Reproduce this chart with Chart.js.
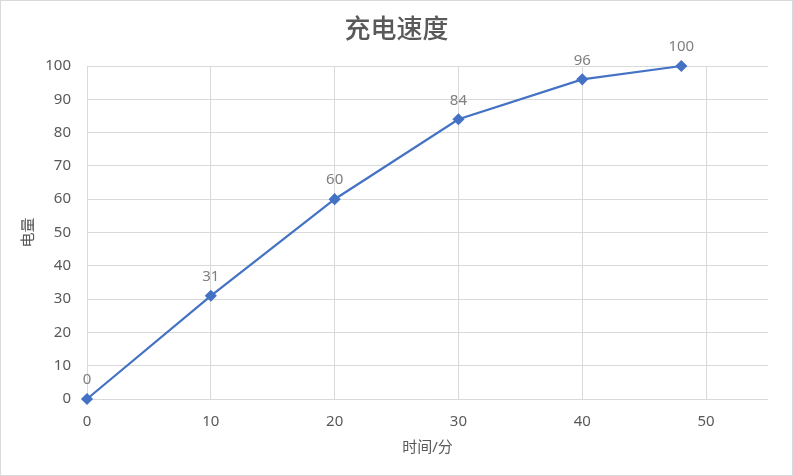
<!DOCTYPE html>
<html>
<head>
<meta charset="utf-8">
<script src="https://cdn.jsdelivr.net/npm/chart.js@4.4.0/dist/chart.umd.min.js"></script>
<style>
  html, body { margin: 0; padding: 0; background: #fff; }
  #wrap { width: 793px; height: 476px; position: relative; }
</style>
</head>
<body>
<div id="wrap"><canvas id="c" width="793" height="476"></canvas></div>
<script>
const chartTitle = '充电速度';
const xAxisTitle = '时间/分';
const yAxisTitle = '电量';
const timeMinutes = [0, 10, 20, 30, 40, 48];
const chargeLevel = [0, 31, 60, 84, 96, 100];

const FONT = '"Noto Sans", "Noto Sans CJK SC", sans-serif';
const TXT = '#595959';
const GRID = '#d9d9d9';

const borderPlugin = {
  id: 'outerBorder',
  afterDraw(chart) {
    const ctx = chart.ctx;
    ctx.save();
    ctx.strokeStyle = '#d9d9d9';
    ctx.lineWidth = 1;
    ctx.strokeRect(0.5, 0.5, chart.width - 1, chart.height - 1);
    ctx.restore();
  }
};

const labelPlugin = {
  id: 'pointLabels',
  afterDatasetsDraw(chart) {
    const ctx = chart.ctx;
    const meta = chart.getDatasetMeta(0);
    ctx.save();
    ctx.font = '15px ' + FONT;
    ctx.fillStyle = '#7f7f7f';
    ctx.textAlign = 'center';
    ctx.textBaseline = 'middle';
    meta.data.forEach((pt, i) => {
      ctx.fillText(String(chargeLevel[i]), pt.x, pt.y - 19);
    });
    ctx.restore();
  }
};

new Chart(document.getElementById('c'), {
  type: 'line',
  data: {
    datasets: [{
      data: timeMinutes.map((t, i) => ({ x: t, y: chargeLevel[i] })),
      borderColor: '#4472C4',
      backgroundColor: '#4472C4',
      borderWidth: 2.25,
      pointStyle: 'rectRot',
      pointRadius: 4.5,
      pointHoverRadius: 4.5,
      tension: 0,
      fill: false,
      clip: false
    }]
  },
  options: {
    responsive: false,
    animation: false,
    layout: { padding: { left: 0, right: 0, top: 0, bottom: 0 } },
    plugins: {
      legend: { display: false },
      tooltip: { enabled: false },
      title: {
        display: true,
        text: chartTitle,
        color: TXT,
        font: { family: FONT, size: 26, weight: '500', lineHeight: 1.2 },
        padding: { top: 15, bottom: 19.8 }
      }
    },
    scales: {
      x: {
        type: 'linear',
        min: 0,
        max: 55,
        afterFit(s) { s.height = 77; },
        ticks: {
          stepSize: 10,
          color: TXT,
          padding: 14,
          font: { family: FONT, size: 15 },
          callback: v => (v % 10 === 0 ? String(v) : '')
        },
        grid: {
          color: c => (c.tick && c.tick.value % 10 === 0 ? GRID : 'rgba(0,0,0,0)'),
          drawTicks: false,
          lineWidth: 1
        },
        border: { display: false },
        title: {
          display: true,
          text: xAxisTitle,
          color: TXT,
          font: { family: FONT, size: 15 },
          padding: { top: 0, bottom: 19 }
        }
      },
      y: {
        min: 0,
        max: 100,
        afterFit(s) { s.width = 87; },
        ticks: {
          stepSize: 10,
          color: TXT,
          padding: 16,
          font: { family: FONT, size: 15 }
        },
        grid: { color: GRID, drawTicks: false, lineWidth: 1 },
        border: { display: false },
        title: {
          display: true,
          text: yAxisTitle,
          color: TXT,
          font: { family: FONT, size: 15 },
          padding: { top: 20, bottom: 0 }
        }
      },
      rightGap: {
        type: 'linear',
        position: 'right',
        display: true,
        afterFit(s) { s.width = 25; },
        ticks: { display: false },
        grid: { display: false, drawTicks: false },
        border: { display: false }
      }
    }
  },
  plugins: [borderPlugin, labelPlugin]
});
</script>
</body>
</html>
